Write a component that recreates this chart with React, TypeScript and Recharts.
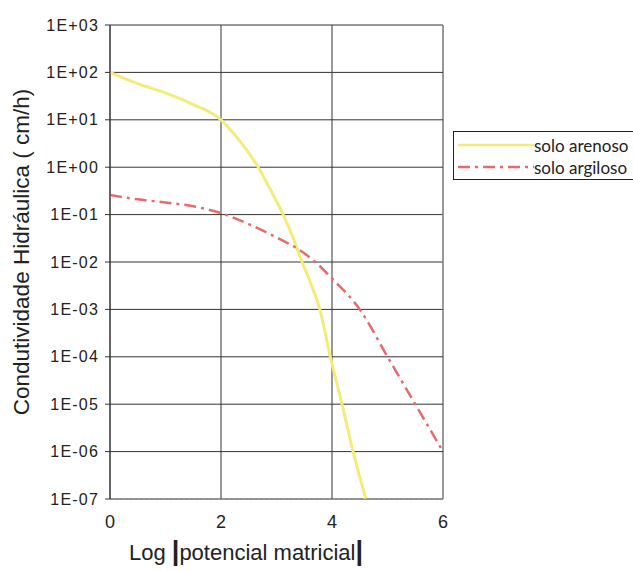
import React from 'react';
import { LineChart, Line, XAxis, YAxis, CartesianGrid, Legend, ReferenceLine } from 'recharts';

// log |potencial matricial| e condutividade (cm/h)
const arenosoX = [0, 0.5, 1, 1.5, 2, 2.25, 2.5, 2.67, 2.9, 3.12, 3.3, 3.46, 3.6, 3.78, 3.97, 4.18, 4.38, 4.61];
const arenosoK = [100, 58, 37, 21, 10, 4.8, 2.0, 1.0, 0.32, 0.1, 0.032, 0.01, 4e-3, 1e-3, 1e-4, 1e-5, 1e-6, 1e-7];

const argilosoX = [0, 0.5, 1, 1.5, 2, 2.5, 3, 3.35, 3.7, 4, 4.5, 5, 5.5, 6];
const argilosoK = [0.26, 0.21, 0.18, 0.15, 0.107, 0.063, 0.033, 0.02, 0.01, 4.5e-3, 1e-3, 1e-4, 1e-5, 1e-6];

const xTicks = [0, 2, 4, 6];
const yTicks = [1e-7, 1e-6, 1e-5, 1e-4, 1e-3, 1e-2, 1e-1, 1e0, 1e1, 1e2, 1e3];

const arenoso = arenosoX.map((x, i) => ({ x, k: arenosoK[i] }));
const argiloso = argilosoX.map((x, i) => ({ x, k: argilosoK[i] }));

const fmtY = (v: number) => {
  const e = Math.round(Math.log10(v));
  const s = e < 0 ? '-' : '+';
  return '1E' + s + String(Math.abs(e)).padStart(2, '0');
};

const FONTE = 'Liberation Sans, Arial, sans-serif';
const AMARELO = '#f3ec78';
const VERMELHO = '#e86b6b';
const TRACO = '12 5 3 5';

const LegendaBox = () => (
  <div
    style={{
      border: '1px solid #222',
      width: 190,
      height: 49,
      boxSizing: 'border-box',
      fontFamily: 'Lato, sans-serif',
      fontSize: 17,
      color: '#222',
      paddingTop: 2,
    }}
  >
    {[
      { nome: 'solo arenoso', cor: AMARELO, dash: undefined },
      { nome: 'solo argiloso', cor: VERMELHO, dash: TRACO },
    ].map((item) => (
      <div key={item.nome} style={{ display: 'flex', alignItems: 'center', height: 22 }}>
        <svg width={80} height={10}>
          <line x1={4} y1={5} x2={80} y2={5} stroke={item.cor} strokeWidth={2.5} strokeDasharray={item.dash} />
        </svg>
        <span>{item.nome}</span>
      </div>
    ))}
  </div>
);

const RotuloX = () => (
  <text x={246} y={560} textAnchor="middle" fontSize={22} fill="#222" fontFamily={FONTE}>
    <tspan>Log </tspan>
    <tspan fontWeight="bold" fontSize={27}>|</tspan>
    <tspan>potencial matricial</tspan>
    <tspan fontWeight="bold" fontSize={27}>|</tspan>
  </text>
);

const RotuloY = () => (
  <text x={29} y={252} transform="rotate(-90 29 252)" textAnchor="middle" fontSize={22.5} fill="#222" fontFamily={FONTE}>
    Condutividade Hidráulica ( cm/h)
  </text>
);

export default function App() {
  return (
    <div style={{ position: 'absolute', left: 0, top: 0, width: 633, height: 571, overflow: 'hidden', background: '#fff' }}>
      <LineChart width={633} height={571} margin={{ top: 25, right: 190, bottom: 42, left: 40 }}>
        <CartesianGrid stroke="#333" strokeWidth={1} />
        <XAxis
          type="number"
          dataKey="x"
          domain={[0, 6]}
          ticks={xTicks}
          allowDataOverflow
          tickLine={false}
          axisLine={{ stroke: '#888', strokeDasharray: '3 2' }}
          tick={{ fontSize: 18, fill: '#222', fontFamily: FONTE }}
          tickMargin={10}
          height={30}
          label={<RotuloX />}
        />
        <YAxis
          type="number"
          dataKey="k"
          scale="log"
          domain={[1e-7, 1e3]}
          ticks={yTicks}
          allowDataOverflow
          tickFormatter={fmtY}
          width={70}
          tickSize={5}
          tickMargin={6}
          tickLine={{ stroke: '#333' }}
          axisLine={{ stroke: '#333' }}
          tick={{ fontSize: 16, fill: '#222', fontFamily: FONTE, letterSpacing: 1.2 }}
          label={<RotuloY />}
        />
        <ReferenceLine x={6} stroke="#999" strokeDasharray="2 2" />
        <Line
          data={arenoso}
          dataKey="k"
          name="solo arenoso"
          type="monotone"
          stroke={AMARELO}
          strokeWidth={3}
          dot={false}
          isAnimationActive={false}
        />
        <Line
          data={argiloso}
          dataKey="k"
          name="solo argiloso"
          type="monotone"
          stroke={VERMELHO}
          strokeWidth={2.5}
          strokeDasharray={TRACO}
          dot={false}
          isAnimationActive={false}
        />
        <Legend
          layout="horizontal"
          verticalAlign="middle"
          align="center"
          content={() => <LegendaBox />}
          wrapperStyle={{ left: 453, top: 131, width: 190, height: 49 }}
        />
      </LineChart>
    </div>
  );
}
